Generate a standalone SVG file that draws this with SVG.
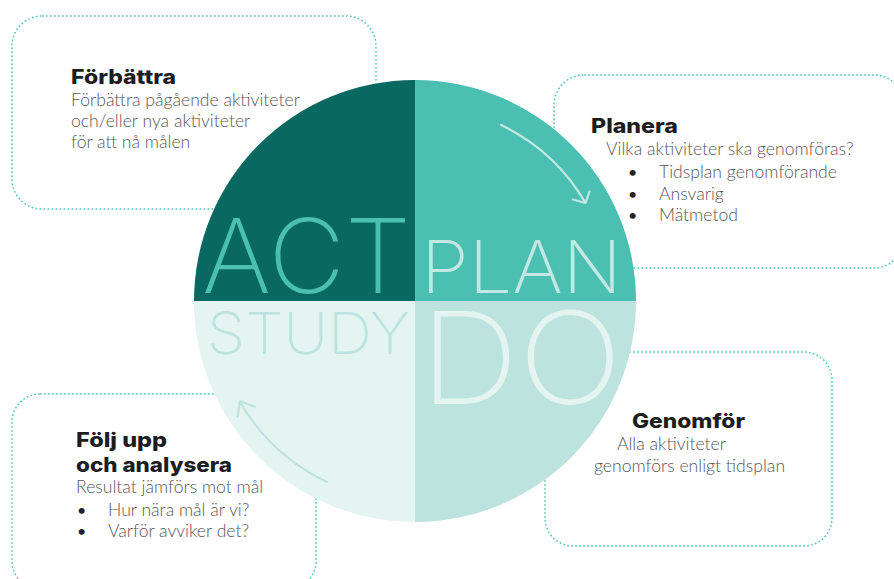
<svg xmlns="http://www.w3.org/2000/svg" width="894" height="579" viewBox="0 0 894 579">
<style>
.box{fill:#ffffff;stroke:#4cc3b3;stroke-width:1.5;stroke-dasharray:1.6 2.4;stroke-linecap:butt}
.h{font-family:Inter,"Open Sans","Liberation Sans",sans-serif;font-weight:800;font-size:20px;fill:#1d1d1d}
.b{font-family:Lato,"Open Sans","Liberation Sans",sans-serif;font-weight:300;font-size:17.6px;fill:#585858}
.bul{font-family:Lato,"Liberation Sans",sans-serif;font-size:16px;fill:#222}
.big{font-family:Inter,"Open Sans","Liberation Sans",sans-serif;font-weight:200}
.arc{fill:none;stroke-width:2.2;stroke-linecap:round;stroke-linejoin:round}
</style>
<rect width="894" height="579" fill="#ffffff"/>
<g id="box-forbattra"><rect class="box" x="12" y="16" width="364" height="193" rx="30"/></g>
<g id="box-planera"><rect class="box" x="554" y="75" width="350" height="193" rx="30"/></g>
<g id="box-folj"><rect class="box" x="12" y="394" width="304" height="195" rx="28"/></g>
<g id="box-genomfor"><rect class="box" x="545" y="352" width="287" height="194" rx="28"/></g>

<g id="pdsa-circle">
<path id="q-act" d="M415 301 L194 301 A221 221 0 0 1 415 80 Z" fill="#096960"/>
<path id="q-plan" d="M415 301 L415 80 A221 221 0 0 1 636 301 Z" fill="#4bbfb1"/>
<path id="q-do" d="M415 301 L636 301 A221 221 0 0 1 415 522 Z" fill="#bde3de"/>
<path id="q-study" d="M415 301 L415 522 A221 221 0 0 1 194 301 Z" fill="#e4f4f1"/>
<text class="big" x="202" y="293" font-size="103" fill="#4bbfb1" textLength="209" lengthAdjust="spacingAndGlyphs">ACT</text>
<text class="big" x="421" y="293" font-size="73" fill="#c3e8e3" textLength="201" lengthAdjust="spacingAndGlyphs">PLAN</text>
<text class="big" x="207" y="354" font-size="58" fill="#bde3de" textLength="203" lengthAdjust="spacingAndGlyphs">STUDY</text>
<text class="big" x="420" y="404" font-size="128" fill="#e4f4f1" textLength="202" lengthAdjust="spacingAndGlyphs">DO</text>
</g>

<g id="connectors">
<path class="arc" stroke="#c3e8e3" d="M501 125 A197 197 0 0 1 585 202"/>
<polyline class="arc" stroke="#c3e8e3" points="573,199.5 585.5,203 589.5,191.5"/>
<path class="arc" stroke="#bde3de" d="M327 482 A201 201 0 0 1 240 402"/>
<polyline class="arc" stroke="#bde3de" points="255,406.5 240,401.5 237.5,416.5"/>
</g>

<g id="text-forbattra">
<text class="h" x="71" y="84" textLength="105" lengthAdjust="spacingAndGlyphs">Förbättra</text>
<text class="b" x="71" y="106">Förbättra pågående aktiviteter</text>
<text class="b" x="71" y="127">och/eller nya aktiviteter</text>
<text class="b" x="71" y="148">för att nå målen</text>
</g>
<g id="text-planera">
<text class="h" x="591" y="133" textLength="87" lengthAdjust="spacingAndGlyphs">Planera</text>
<text class="b" x="606" y="155">Vilka aktiviteter ska genomföras?</text>
<text class="bul" x="628" y="178">•</text><text class="b" x="659" y="178">Tidsplan genomförande</text>
<text class="bul" x="628" y="200">•</text><text class="b" x="659" y="200">Ansvarig</text>
<text class="bul" x="628" y="221">•</text><text class="b" x="659" y="221">Mätmetod</text>
</g>
<g id="text-genomfor">
<text class="h" x="632" y="428" textLength="113" lengthAdjust="spacingAndGlyphs">Genomför</text>
<text class="b" x="617" y="450">Alla aktiviteter</text>
<text class="b" x="594" y="472">genomförs enligt tidsplan</text>
</g>
<g id="text-folj">
<text class="h" x="76" y="447" textLength="91" lengthAdjust="spacingAndGlyphs">Följ upp</text>
<text class="h" x="76" y="472" textLength="156" lengthAdjust="spacingAndGlyphs">och analysera</text>
<text class="b" x="76" y="493">Resultat jämförs mot mål</text>
<text class="bul" x="77" y="516">•</text><text class="b" x="108" y="516">Hur nära mål är vi?</text>
<text class="bul" x="77" y="537">•</text><text class="b" x="108" y="537">Varför avviker det?</text>
</g>
</svg>
